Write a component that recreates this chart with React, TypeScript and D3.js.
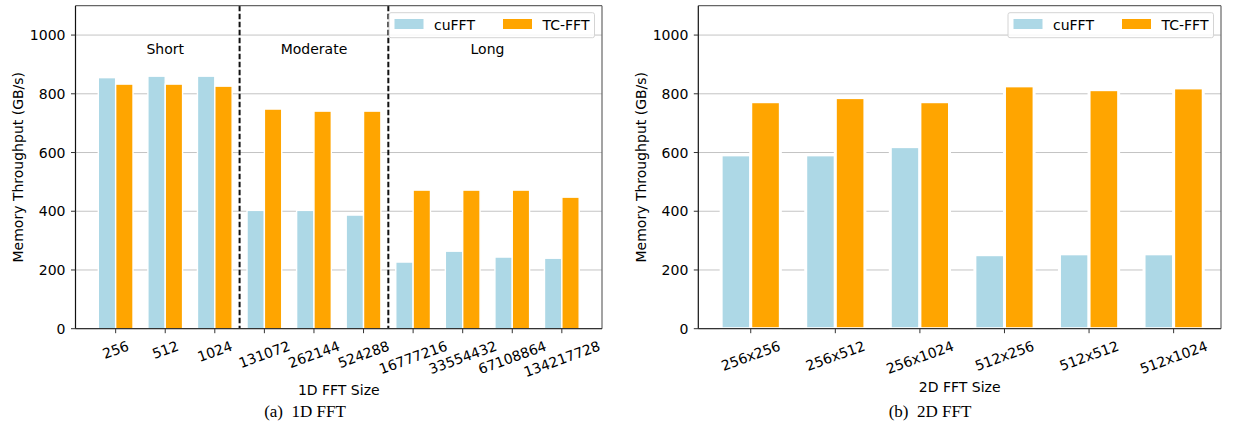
import React, { useEffect, useRef } from 'react';
import * as d3 from 'd3';

// values
const sizes1D = ['256', '512', '1024', '131072', '262144', '524288', '16777216', '33554432', '67108864', '134217728'];
const cufft1D = [855, 860, 860, 403, 403, 387, 227, 264, 244, 240];
const tcfft1D = [833, 833, 826, 748, 741, 741, 472, 472, 472, 448];

const sizes2D = ['256x256', '256x512', '256x1024', '512x256', '512x512', '512x1024'];
const cufft2D = [592, 592, 620, 252, 255, 255];
const tcfft2D = [773, 787, 773, 827, 814, 820];

const yTicks = [0, 200, 400, 600, 800, 1000];
const seriesNames = ['cuFFT', 'TC-FFT'];
const seriesColors = ['#add8e6', '#ffa500'];

const groupLabels1D = ['Short', 'Moderate', 'Long'];
const groupCenters1D = [1, 4, 7.5];
const dividers1D = [2.5, 5.5];

const FONT = "'DejaVu Sans', sans-serif";
const FS = 14;

const panels = [
  {
    labels: sizes1D, a: cufft1D, b: tcfft1D,
    xDomain: [-0.81, 9.81], xRange: [75.5, 602],
    barStroke: 1.4, xTitle: '1D FFT Size', xTitleY: 395,
    caption: '(a)\u00a0\u00a01D FFT', captionX: 305, yTitleX: 18,
    groups: true,
  },
  {
    labels: sizes2D, a: cufft2D, b: tcfft2D,
    xDomain: [-0.62, 5.56], xRange: [698.3, 1221],
    barStroke: 3, xTitle: '2D FFT Size', xTitleY: 392,
    caption: '(b)\u00a0\u00a02D FFT', captionX: 930, yTitleX: 641,
    groups: false,
  },
];

export default function App() {
  const ref = useRef<SVGSVGElement>(null);

  useEffect(() => {
    const svg = d3.select(ref.current);
    svg.selectAll('*').remove();

    const y = d3.scaleLinear().domain([0, 1100]).range([328.7, 5.7]);
    const [y0, y1] = y.range();

    panels.forEach((p) => {
      const x = d3.scaleLinear().domain(p.xDomain).range(p.xRange);
      const [xl, xr] = p.xRange;
      const g = svg.append('g');

      // grid
      g.selectAll('.grid').data(yTicks).enter().append('line')
        .attr('x1', xl).attr('x2', xr)
        .attr('y1', (d) => y(d)).attr('y2', (d) => y(d))
        .attr('stroke', '#c4c4c4').attr('stroke-width', 1);

      // bars
      [p.a, p.b].forEach((vals, s) => {
        g.selectAll('.bar' + s).data(vals).enter().append('rect')
          .attr('x', (d, i) => x(i - 0.35 + s * 0.35))
          .attr('width', x(0.35) - x(0))
          .attr('y', (d) => y(d))
          .attr('height', (d) => y(0) - y(d))
          .attr('fill', seriesColors[s])
          .attr('stroke', '#fff')
          .attr('stroke-width', p.barStroke);
      });

      // group dividers + labels
      if (p.groups) {
        g.selectAll('.div').data(dividers1D).enter().append('line')
          .attr('x1', (d) => x(d)).attr('x2', (d) => x(d))
          .attr('y1', y1).attr('y2', y0)
          .attr('stroke', '#111').attr('stroke-width', 2)
          .attr('stroke-dasharray', '5.5,2.5');
        g.selectAll('.grp').data(groupLabels1D).enter().append('text')
          .attr('x', (d, i) => x(groupCenters1D[i]))
          .attr('y', y(935))
          .attr('text-anchor', 'middle')
          .attr('font-family', FONT).attr('font-size', FS)
          .text((d) => d);
      }

      // spines
      g.append('line').attr('x1', xl).attr('x2', xr).attr('y1', y1).attr('y2', y1).attr('stroke', '#666').attr('stroke-width', 1.2);
      g.append('line').attr('x1', xr).attr('x2', xr).attr('y1', y1).attr('y2', y0).attr('stroke', '#666').attr('stroke-width', 1.2);
      g.append('line').attr('x1', xl).attr('x2', xl).attr('y1', y1).attr('y2', y0).attr('stroke', '#111').attr('stroke-width', 1.2);
      g.append('line').attr('x1', xl).attr('x2', xr).attr('y1', y0).attr('y2', y0).attr('stroke', '#333').attr('stroke-width', 1.2);

      // y ticks
      yTicks.forEach((t) => {
        g.append('line').attr('x1', xl - 4.5).attr('x2', xl).attr('y1', y(t)).attr('y2', y(t)).attr('stroke', '#333');
        g.append('text').attr('x', xl - 10).attr('y', y(t)).attr('dy', '0.36em')
          .attr('text-anchor', 'end').attr('font-family', FONT).attr('font-size', FS).text(t);
      });

      // x ticks with rotated labels
      const theta = (20 * Math.PI) / 180;
      const h = FS * 1.05;
      p.labels.forEach((lab, i) => {
        const cx = x(i);
        g.append('line').attr('x1', cx).attr('x2', cx).attr('y1', y0).attr('y2', y0 + 4.5).attr('stroke', '#333');
        const t = g.append('text')
          .attr('text-anchor', 'middle').attr('dy', '0.36em')
          .attr('font-family', FONT).attr('font-size', FS).text(lab);
        const L = (t.node() as SVGTextElement).getComputedTextLength();
        const H = L * Math.sin(theta) + h * Math.cos(theta);
        const cy = y0 + 9.5 + H / 2;
        t.attr('transform', `translate(${cx},${cy}) rotate(-20)`);
      });

      // axis titles
      g.append('text').attr('x', (xl + xr) / 2).attr('y', p.xTitleY)
        .attr('text-anchor', 'middle').attr('font-family', FONT).attr('font-size', FS).text(p.xTitle);
      g.append('text')
        .attr('transform', `translate(${p.yTitleX},${(y0 + y1) / 2}) rotate(-90)`)
        .attr('dy', '0.36em')
        .attr('text-anchor', 'middle').attr('font-family', FONT).attr('font-size', FS)
        .text('Memory Throughput (GB/s)');

      // legend
      const lx = xr - 213;
      const lg = g.append('g');
      lg.append('rect').attr('x', lx).attr('y', 12.7).attr('width', 205.5).attr('height', 25)
        .attr('rx', 2).attr('fill', '#fff').attr('fill-opacity', 0.85)
        .attr('stroke', '#d4d4d4').attr('stroke-width', 1);
      seriesNames.forEach((name, s) => {
        const ox = lx + 5.5 + s * 108.5;
        lg.append('rect').attr('x', ox).attr('y', 19).attr('width', 29).attr('height', 10)
          .attr('fill', seriesColors[s]);
        lg.append('text').attr('x', ox + 39.5).attr('y', 29.5)
          .attr('font-family', FONT).attr('font-size', FS).text(name);
      });

      // subfigure caption
      svg.append('text').attr('x', p.captionX).attr('y', 417)
        .attr('text-anchor', 'middle')
        .attr('font-family', "'Liberation Serif', serif").attr('font-size', 17)
        .text(p.caption);
    });
  }, []);

  return (
    <svg
      ref={ref}
      width={1233}
      height={425}
      style={{ position: 'fixed', left: 0, top: 0, background: '#fff' }}
    />
  );
}
